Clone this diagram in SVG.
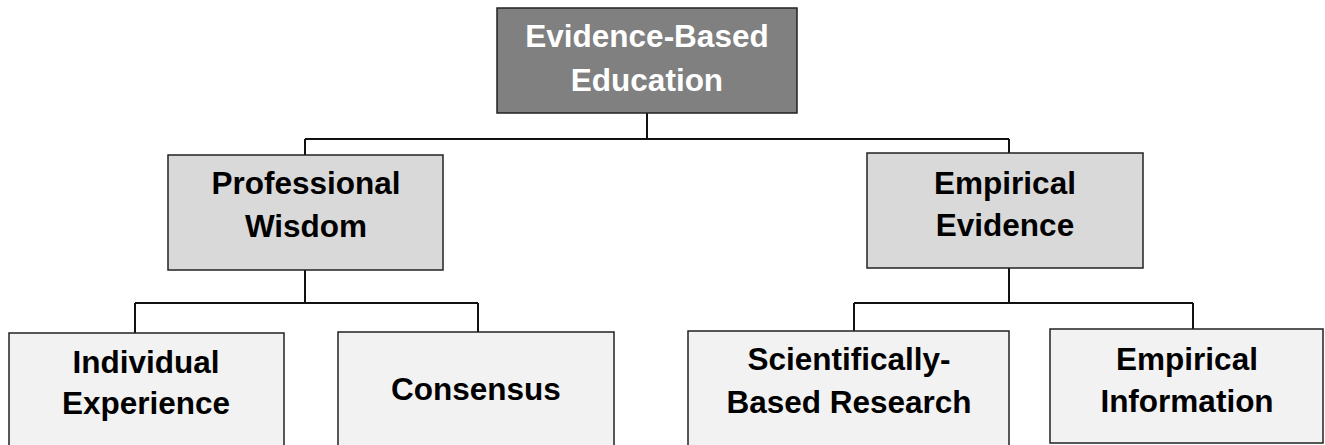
<svg xmlns="http://www.w3.org/2000/svg" width="1325" height="445" viewBox="0 0 1325 445">
<style>
.box{stroke:#222;stroke-width:1.5}
.root{fill:#808080}
.mid{fill:#d9d9d9}
.leaf{fill:#f2f2f2}
text{font-family:"Liberation Sans",Arial,sans-serif;font-weight:bold;font-size:31.5px;text-anchor:middle;fill:#000}
.w{fill:#fff}
.conn{fill:none;stroke:#111;stroke-width:2}
</style>
<rect width="1325" height="445" fill="#fff"/>
<g id="connectors" class="conn">
<path d="M647 113V139M305 139H1009M305 139V155M1009 139V153"/>
<path d="M305 270V303M135 303H478M135 303V333M478 303V332"/>
<path d="M1009 268V303M854 303H1193M854 303V331M1193 303V329"/>
</g>
<g id="root">
<rect class="box root" x="497" y="8" width="300" height="105"/>
<text class="w" x="647" y="47">Evidence-Based</text>
<text class="w" x="647" y="91">Education</text>
</g>
<g id="professional">
<rect class="box mid" x="168" y="155" width="275" height="115"/>
<text x="306" y="194">Professional</text>
<text x="306" y="237">Wisdom</text>
</g>
<g id="empirical">
<rect class="box mid" x="867" y="153" width="276" height="115"/>
<text x="1005" y="194">Empirical</text>
<text x="1005" y="236">Evidence</text>
</g>
<g id="individual">
<rect class="box leaf" x="9" y="333" width="275" height="130"/>
<text x="146" y="373">Individual</text>
<text x="146" y="414">Experience</text>
</g>
<g id="consensus">
<rect class="box leaf" x="338" y="332" width="276" height="130"/>
<text x="476" y="400">Consensus</text>
</g>
<g id="scientific">
<rect class="box leaf" x="688" y="331" width="321" height="130"/>
<text x="849" y="370">Scientifically-</text>
<text x="849" y="413">Based Research</text>
</g>
<g id="information">
<rect class="box leaf" x="1050" y="329" width="273" height="114"/>
<text x="1187" y="370">Empirical</text>
<text x="1187" y="412">Information</text>
</g>
</svg>
